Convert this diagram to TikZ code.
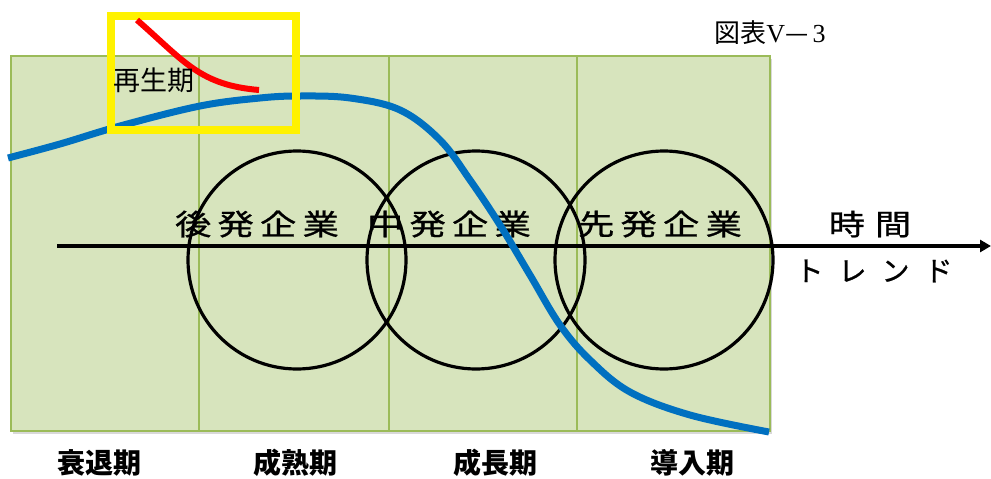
\documentclass[tikz,border=0pt]{standalone}
\usepackage{fontspec}
\setmainfont{Noto Sans CJK JP}
\newfontfamily\heavy[FakeBold=0.8]{Noto Sans CJK JP}
\newfontfamily\mincho{Liberation Serif}
\usetikzlibrary{shadows,arrows.meta}
\definecolor{colfill}{HTML}{D7E4BD}
\definecolor{coledge}{HTML}{9BBB59}
\definecolor{curveblue}{HTML}{0070C0}
\newcommand{\wide}[1]{\scalebox{1.25}[1]{#1}}
\begin{document}
\begin{tikzpicture}[x=1pt,y=-1pt,
  column/.style={draw=coledge,line width=1.6pt,fill=colfill,minimum height=375pt,inner sep=0pt,anchor=north west,
     drop shadow={opacity=0.3,shadow xshift=2.5pt,shadow yshift=-3.5pt}},
  firm/.style={draw=black,line width=3.2pt,circle,minimum size=218pt,inner sep=0pt},
  big/.style={font=\fontsize{29}{29}\heavy,inner sep=0pt},
  phase/.style={font=\fontsize{28}{28}\selectfont\bfseries,inner sep=0pt}]
\useasboundingbox (0,0) rectangle (991,479);
% columns
\node[column,minimum width=188pt] (c1) at (10,55) {};
\node[column,minimum width=190pt] (c2) at (198,55) {};
\node[column,minimum width=188pt] (c3) at (388,55) {};
\node[column,minimum width=193pt] (c4) at (576,55) {};
% circles
\node[firm] (f1) at (297,260) {};
\node[firm] (f2) at (476,260) {};
\node[firm] (f3) at (664,260) {};
% axis
\coordinate (a0) at (57,246);
\coordinate (a1) at (991,246);
\draw[line width=3.2pt,-{Triangle[length=11pt,width=12pt]}] (a0) -- (a1);
% firm labels
\node[big] (t1) at (257,224) {\wide{後\hspace{5pt}発\hspace{5pt}企\hspace{5pt}業}};
\node[big] (t2) at (449,224) {\wide{中\hspace{5pt}発\hspace{5pt}企\hspace{5pt}業}};
\node[big] (t3) at (660,224) {\wide{先\hspace{5pt}発\hspace{5pt}企\hspace{5pt}業}};
\node[big] (time) at (870,224) {\wide{時\hspace{8pt}間}};
\node[font=\fontsize{28}{28}\heavy,inner sep=0pt] (trend) at (874,271) {ト\hspace{15pt}レ\hspace{15pt}ン\hspace{15pt}ド};
% blue curve
\draw[curveblue,line width=7pt] plot[smooth,tension=0.6] coordinates {(8,158) (60,144) (120,126) (200,106) (260,98) (300,96) (350,98) (400,110) (440,140) (470,180) (500,225) (530,275) (560,325) (590,360) (630,392) (690,415) (769,432)};
% yellow box and red curve
\node[draw=yellow,line width=8pt,minimum width=185pt,minimum height=114pt,inner sep=0pt,anchor=north west] (yb) at (106.5,11.5) {};
\coordinate (r0) at (137,20);
\coordinate (r1) at (259,90);
\draw[red,line width=6pt] (r0) .. controls (185,62) and (200,85) .. (r1);
\node[font=\fontsize{27}{27}\selectfont,inner sep=0pt] (regen) at (154,80) {再生期};
% title
\node[font=\fontsize{26}{26}\selectfont,inner sep=0pt] (title) at (770,33) {図表{\mincho V}—{\mincho\,3}};
% phases
\node[phase] (p1) at (99,463) {衰退期};
\node[phase] (p2) at (295,463) {成熟期};
\node[phase] (p3) at (495,463) {成長期};
\node[phase] (p4) at (692,463) {導入期};
\end{tikzpicture}
\end{document}
